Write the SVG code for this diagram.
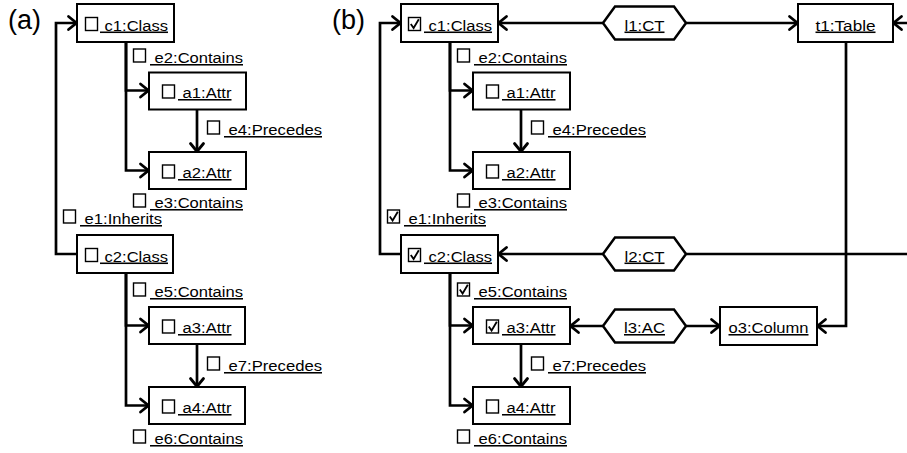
<svg xmlns="http://www.w3.org/2000/svg" xmlns:xlink="http://www.w3.org/1999/xlink" width="907" height="453" viewBox="0 0 907 453">
<style>
.box{fill:#fff;stroke:#000;stroke-width:2}
.hex{fill:#fff;stroke:#000;stroke-width:2.5;stroke-linejoin:miter}
.lbl{font-family:"Liberation Sans",Arial,sans-serif;font-size:15.5px;fill:#000;text-decoration:underline;white-space:pre}
.ttl{font-family:"Liberation Sans",Arial,sans-serif;font-size:27px;fill:#000}
.conn path{fill:none;stroke:#000;stroke-width:2.7;marker-end:url(#arr)}
.cbr{fill:#fff;stroke:#000;stroke-width:1.4}
.tick{fill:none;stroke:#000;stroke-width:1.8;stroke-linejoin:miter}
</style>
<defs>
<marker id="arr" markerUnits="userSpaceOnUse" markerWidth="16" markerHeight="16" refX="11" refY="7" orient="auto" overflow="visible">
<path d="M2.5,0.5 L10.5,7 L2.5,13.5" fill="none" stroke="#000" stroke-width="2.8" stroke-linecap="round"/>
</marker>
<g id="cb0"><rect class="cbr" x="0.5" y="0.5" width="12" height="13"/></g>
<g id="cb1"><rect class="cbr" x="0.5" y="0.5" width="12" height="13"/><path class="tick" d="M2.8,7 L5.6,11 L10.8,2.2"/></g>
</defs>
<rect width="907" height="453" fill="#fff"/>
<text class="ttl" x="8" y="29">(a)</text>
<text class="ttl" x="332" y="29">(b)</text>

<g id="connectors" class="conn">
<path id="a-e1" d="M77,254 H56 V23 H77"/>
<path id="a-e2" d="M126,42 V90.5 H149"/>
<path id="a-e3" d="M126,42 V170.5 H149"/>
<path id="a-e4" d="M197,109.5 V152"/>
<path id="a-e5" d="M126,273 V325.5 H149"/>
<path id="a-e6" d="M126,273 V405.5 H149"/>
<path id="a-e7" d="M197,344 V387"/>
<path id="b-e1" d="M401,254 H380 V23 H401"/>
<path id="b-e2" d="M450,42 V90.5 H473"/>
<path id="b-e3" d="M450,42 V170.5 H473"/>
<path id="b-e4" d="M521,109.5 V152"/>
<path id="b-e5" d="M450,273 V325.5 H473"/>
<path id="b-e6" d="M450,273 V405.5 H473"/>
<path id="b-e7" d="M521,344 V387"/>
<path id="l1-c1" d="M603,23 H498"/>
<path id="l1-t1" d="M686,23 H798"/>
<path id="l2-c2" d="M603,254 H498"/>
<path id="l2-t1" d="M686,254 H914 V23 H893"/>
<path id="t1-o3" d="M846,42 V326 H817"/>
<path id="l3-a3" d="M603,326 H570"/>
<path id="l3-o3" d="M686,326 H720"/>
</g>

<g id="a-edge-labels">
<use xlink:href="#cb0" x="133" y="48.5"/><text class="lbl" x="150" y="63" textLength="93" lengthAdjust="spacingAndGlyphs"> e2:Contains</text>
<use xlink:href="#cb0" x="207" y="120.5"/><text class="lbl" x="224" y="135" textLength="98" lengthAdjust="spacingAndGlyphs"> e4:Precedes</text>
<use xlink:href="#cb0" x="133" y="193.5"/><text class="lbl" x="150" y="208" textLength="93" lengthAdjust="spacingAndGlyphs"> e3:Contains</text>
<use xlink:href="#cb0" x="63" y="209.5"/><text class="lbl" x="80" y="224" textLength="82" lengthAdjust="spacingAndGlyphs"> e1:Inherits</text>
<use xlink:href="#cb0" x="133" y="282.5"/><text class="lbl" x="150" y="297" textLength="93" lengthAdjust="spacingAndGlyphs"> e5:Contains</text>
<use xlink:href="#cb0" x="207" y="356.5"/><text class="lbl" x="224" y="371" textLength="98" lengthAdjust="spacingAndGlyphs"> e7:Precedes</text>
<use xlink:href="#cb0" x="133" y="429.5"/><text class="lbl" x="150" y="444" textLength="93" lengthAdjust="spacingAndGlyphs"> e6:Contains</text>
</g>
<g id="b-edge-labels">
<use xlink:href="#cb0" x="457" y="48.5"/><text class="lbl" x="474" y="63" textLength="93" lengthAdjust="spacingAndGlyphs"> e2:Contains</text>
<use xlink:href="#cb0" x="531" y="120.5"/><text class="lbl" x="548" y="135" textLength="98" lengthAdjust="spacingAndGlyphs"> e4:Precedes</text>
<use xlink:href="#cb0" x="457" y="193.5"/><text class="lbl" x="474" y="208" textLength="93" lengthAdjust="spacingAndGlyphs"> e3:Contains</text>
<use xlink:href="#cb1" x="387" y="209.5"/><text class="lbl" x="404" y="224" textLength="82" lengthAdjust="spacingAndGlyphs"> e1:Inherits</text>
<use xlink:href="#cb1" x="457" y="282.5"/><text class="lbl" x="474" y="297" textLength="93" lengthAdjust="spacingAndGlyphs"> e5:Contains</text>
<use xlink:href="#cb0" x="531" y="356.5"/><text class="lbl" x="548" y="371" textLength="98" lengthAdjust="spacingAndGlyphs"> e7:Precedes</text>
<use xlink:href="#cb0" x="457" y="429.5"/><text class="lbl" x="474" y="444" textLength="93" lengthAdjust="spacingAndGlyphs"> e6:Contains</text>
</g>

<g id="a-c1"><rect class="box" x="77" y="4" width="97" height="38"/><use xlink:href="#cb0" x="85" y="17"/><text class="lbl" x="100" y="30.5" textLength="68" lengthAdjust="spacingAndGlyphs"> c1:Class</text></g>
<g id="a-a1"><rect class="box" x="149" y="72.5" width="97" height="37"/><use xlink:href="#cb0" x="162" y="84.5"/><text class="lbl" x="178" y="98" textLength="53.5" lengthAdjust="spacingAndGlyphs"> a1:Attr</text></g>
<g id="a-a2"><rect class="box" x="149" y="152" width="97" height="37"/><use xlink:href="#cb0" x="162" y="164.5"/><text class="lbl" x="178" y="178" textLength="53.5" lengthAdjust="spacingAndGlyphs"> a2:Attr</text></g>
<g id="a-c2"><rect class="box" x="77" y="235" width="96" height="38"/><use xlink:href="#cb0" x="85" y="248"/><text class="lbl" x="100" y="261.5" textLength="68" lengthAdjust="spacingAndGlyphs"> c2:Class</text></g>
<g id="a-a3"><rect class="box" x="149" y="307" width="96" height="37"/><use xlink:href="#cb0" x="162" y="319.5"/><text class="lbl" x="178" y="333" textLength="53.5" lengthAdjust="spacingAndGlyphs"> a3:Attr</text></g>
<g id="a-a4"><rect class="box" x="149" y="387" width="96" height="37"/><use xlink:href="#cb0" x="162" y="399.5"/><text class="lbl" x="178" y="413" textLength="53.5" lengthAdjust="spacingAndGlyphs"> a4:Attr</text></g>

<g id="b-c1"><rect class="box" x="401" y="4" width="97" height="38"/><use xlink:href="#cb1" x="408" y="17"/><text class="lbl" x="424" y="30.5" textLength="68" lengthAdjust="spacingAndGlyphs"> c1:Class</text></g>
<g id="b-a1"><rect class="box" x="473" y="72.5" width="97" height="37"/><use xlink:href="#cb0" x="486" y="84.5"/><text class="lbl" x="502" y="98" textLength="53.5" lengthAdjust="spacingAndGlyphs"> a1:Attr</text></g>
<g id="b-a2"><rect class="box" x="473" y="152" width="97" height="37"/><use xlink:href="#cb0" x="486" y="164.5"/><text class="lbl" x="502" y="178" textLength="53.5" lengthAdjust="spacingAndGlyphs"> a2:Attr</text></g>
<g id="b-c2"><rect class="box" x="401" y="235" width="97" height="38"/><use xlink:href="#cb1" x="408" y="248"/><text class="lbl" x="424" y="261.5" textLength="68" lengthAdjust="spacingAndGlyphs"> c2:Class</text></g>
<g id="b-a3"><rect class="box" x="473" y="307" width="97" height="37"/><use xlink:href="#cb1" x="486" y="319.5"/><text class="lbl" x="502" y="333" textLength="53.5" lengthAdjust="spacingAndGlyphs"> a3:Attr</text></g>
<g id="b-a4"><rect class="box" x="473" y="387" width="97" height="37"/><use xlink:href="#cb0" x="486" y="399.5"/><text class="lbl" x="502" y="413" textLength="53.5" lengthAdjust="spacingAndGlyphs"> a4:Attr</text></g>

<g id="b-l1"><polygon class="hex" points="603,23 615,6.5 674,6.5 686,23 674,39.5 615,39.5"/><text class="lbl" x="624.5" y="30.5" textLength="40" lengthAdjust="spacingAndGlyphs">l1:CT</text></g>
<g id="b-t1"><rect class="box" x="798" y="4" width="95" height="38"/><text class="lbl" x="815.5" y="30.5" textLength="60" lengthAdjust="spacingAndGlyphs">t1:Table</text></g>
<g id="b-l2"><polygon class="hex" points="603,254 615,237.5 674,237.5 686,254 674,270.5 615,270.5"/><text class="lbl" x="624.5" y="261.5" textLength="40" lengthAdjust="spacingAndGlyphs">l2:CT</text></g>
<g id="b-l3"><polygon class="hex" points="603,326 615,309.5 674,309.5 686,326 674,342.5 615,342.5"/><text class="lbl" x="624" y="333" textLength="41" lengthAdjust="spacingAndGlyphs">l3:AC</text></g>
<g id="b-o3"><rect class="box" x="720" y="307" width="97" height="38"/><text class="lbl" x="728.5" y="333" textLength="80" lengthAdjust="spacingAndGlyphs">o3:Column</text></g>
</svg>
